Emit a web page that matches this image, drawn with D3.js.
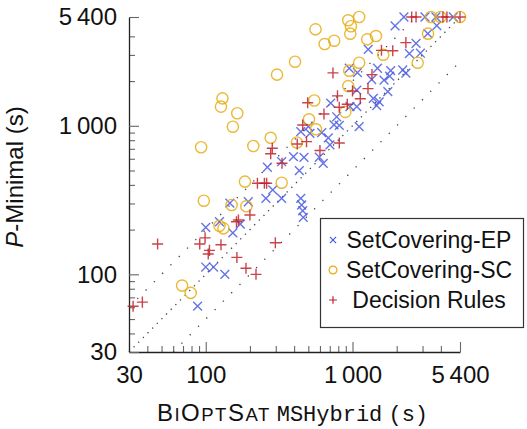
<!DOCTYPE html>
<html lang="en">
<head>
<meta charset="UTF-8" />
<script src="https://d3js.org/d3.v7.min.js"></script>
<title>P-Minimal vs BiOptSat</title>
<style>
  body { margin: 0; background: #fff; }
  text { font-family: "Liberation Sans", Arial, Helvetica, sans-serif; fill: #111; }
  .mono { font-family: "Liberation Mono", "DejaVu Sans Mono", monospace; }
</style>
</head>
<body>
<svg id="scatter-plot" width="527" height="429"></svg>
<script>
    // x: BiOptSat MSHybrid (s), y: P-Minimal (s), timeout = 5400
    const epX = [2240,1950,3120,3700,4860,3750,3260,2710,1280,2440,2900,1480,1820,2200,2310,1640,1790,1350,950,1080,1740,1070,1385,1460,1520,1070,960,710,780,748,813,1110,500,513,617,684,444,702,396,467,263,329,434,594,632,286,257,329,444,450,458,462,195,146,100,124,153,172,100,113,135,88];
    const epY = [5400,4700,5400,5400,5400,4730,4170,3590,3270,3060,3080,2440,2350,2375,2260,2030,2160,2050,2440,2280,1700,1740,1530,1370,1450,1345,1345,1420,1150,1013,1005,986,986,890,899,828,913,743,620,612,526,573,499,614,559,370,325,325,325,293,268,242,308,302,207,226,190,218,112,112,100,61];

    const scX = [560,935,1110,975,965,646,750,1260,1445,406,306,1110,950,2780,3270,3420,3980,5400,935,549,130,127,164,153,277,505,564,893,1620,418,93,211,185,329,97,150,189,124,132,69,79];
    const scY = [4460,5130,5400,4680,4170,3550,3740,3820,4020,2700,2210,2660,2350,2660,4170,5400,5400,5400,1850,1480,1530,1345,1215,986,830,1106,947,1240,3010,772,717,731,421,414,313,293,287,212,204,84,75];

    const drX = [2530,2710,4130,4400,5400,2310,1575,1880,736,1357,1275,1130,1000,790,921,812,495,639,458,813,284,277,331,420,486,600,225,251,260,200,167,162,99,91,127,106,104,163,188,220,298,47,37,32];
    const drY = [5400,5400,5400,5400,5400,3630,3220,3200,2270,2210,1780,1520,1715,1590,1396,1332,1430,1200,1013,766,706,649,559,754,782,682,410,410,410,251,232,226,176,160,158,145,137,130,110,100,163,160,65,61];

    const seriesNames = ['SetCovering-EP', 'SetCovering-SC', 'Decision Rules'];
    const majorTicks = [30, 100, 1000, 5400];
    const tickLabels = ['30', '100', '1\u2009000', '5\u2009400'];
    const minorTicks = [40, 50, 60, 70, 80, 90, 200, 300, 400, 500, 600, 700, 800, 900, 2000, 3000, 4000];
    const diagRatios = [2, 1, 0.5];

    const svg = d3.select('#scatter-plot');
    const margin = { left: 129, right: 460, top: 17, bottom: 352 };
    const lo = 30, hi = 5400;

    const xScale = d3.scaleLog().domain([lo, hi]).range([margin.left, margin.right]);
    const yScale = d3.scaleLog().domain([lo, hi]).range([margin.bottom, margin.top]);
    const fmt = d => tickLabels[majorTicks.indexOf(d)];

    // reference lines y = 2x, y = x, y = x/2
    const line = d3.line().x(d => xScale(d[0])).y(d => yScale(d[1]));
    diagRatios.forEach(r => {
        const x0 = Math.max(lo, lo / r), x1 = Math.min(hi, hi / r);
        svg.append('path')
            .attr('d', line([[x0, x0 * r], [x1, x1 * r]]))
            .attr('fill', 'none')
            .attr('stroke', '#444')
            .attr('stroke-width', 1.3)
            .attr('stroke-dasharray', r === 1 ? '1.3 5.3' : '1.3 10.5');
    });

    // axes
    const styleAxis = g => {
        g.selectAll('.domain').attr('stroke', '#222').attr('stroke-width', 1.3);
        g.selectAll('.tick line').attr('stroke', '#666').attr('stroke-width', 1.1);
        g.selectAll('text').attr('font-size', 24).attr('fill', '#111')
            .attr('font-family', '"Liberation Sans", Arial, sans-serif');
    };

    const xMinorG = svg.append('g').attr('transform', `translate(0,${margin.bottom})`)
        .call(d3.axisBottom(xScale).tickValues(minorTicks).tickSize(-6).tickSizeOuter(0).tickFormat(''));
    xMinorG.select('.domain').remove();
    styleAxis(xMinorG);
    const xAxisG = svg.append('g').attr('transform', `translate(0,${margin.bottom})`)
        .call(d3.axisBottom(xScale).tickValues(majorTicks).tickSize(-10).tickSizeOuter(0).tickPadding(14).tickFormat(fmt));
    styleAxis(xAxisG);

    const yMinorG = svg.append('g').attr('transform', `translate(${margin.left},0)`)
        .call(d3.axisLeft(yScale).tickValues(minorTicks).tickSize(-6).tickSizeOuter(0).tickFormat(''));
    yMinorG.select('.domain').remove();
    styleAxis(yMinorG);
    const yAxisG = svg.append('g').attr('transform', `translate(${margin.left},0)`)
        .call(d3.axisLeft(yScale).tickValues(majorTicks).tickSize(-10).tickSizeOuter(0).tickPadding(12).tickFormat(fmt));
    styleAxis(yAxisG);

    // axis labels
    const xl = svg.append('text').attr('x', (margin.left + margin.right) / 2 - 2).attr('y', 421)
        .attr('text-anchor', 'middle');
    [['B', 24], ['I', 18.5], ['O', 24], ['PT', 18.5], ['S', 24], ['AT', 18.5]].forEach(([t, s]) => {
        xl.append('tspan').attr('font-size', s).attr('letter-spacing', 1.5).text(t);
    });
    xl.append('tspan').attr('class', 'mono').attr('font-size', 22).attr('dx', 6).text('MSHybrid');
    xl.append('tspan').attr('font-size', 22).text(' ');
    xl.append('tspan').attr('class', 'mono').attr('font-size', 22).text('(s)');

    const yl = svg.append('text').attr('transform', 'translate(23,177) rotate(-90)')
        .attr('text-anchor', 'middle').attr('font-size', 24);
    yl.append('tspan').attr('font-style', 'italic').text('P');
    yl.append('tspan').text('-Minimal (s)');

    // markers
    const crossPath = a => `M${-a},${-a}L${a},${a}M${-a},${a}L${a},${-a}`;
    const plusPath = a => `M${-a},0L${a},0M0,${-a}L0,${a}`;

    const series = [
        { name: seriesNames[0], xs: epX, ys: epY, color: '#4a5ce0', draw: (g, s) => g.append('path').attr('d', crossPath(s * 1.1)) },
        { name: seriesNames[1], xs: scX, ys: scY, color: '#e6ad12', draw: (g, s) => g.append('circle').attr('r', s * 1.4) },
        { name: seriesNames[2], xs: drX, ys: drY, color: '#c0222a', draw: (g, s) => g.append('path').attr('d', plusPath(s * 1.38)) }
    ];

    series.forEach(se => {
        const g = svg.append('g');
        se.xs.forEach((xv, i) => {
            const m = g.append('g')
                .attr('transform', `translate(${xScale(xv)},${yScale(se.ys[i])})`);
            se.draw(m, 4)
                .attr('fill', 'none')
                .attr('stroke', se.color)
                .attr('stroke-width', 1.4)
                .attr('stroke-opacity', 0.85);
        });
    });

    // legend
    const lg = svg.append('g');
    lg.append('rect').attr('x', 320.5).attr('y', 218.5).attr('width', 203).attr('height', 109)
        .attr('fill', '#fff').attr('stroke', '#333').attr('stroke-width', 1.2);
    series.forEach((se, i) => {
        const cy = 240 + i * 30;
        const m = lg.append('g').attr('transform', `translate(333,${cy})`);
        se.draw(m, 2.8).attr('fill', 'none').attr('stroke', se.color).attr('stroke-width', 1.2);
        lg.append('text').attr('x', 429).attr('y', cy + 8).attr('text-anchor', 'middle')
            .attr('font-size', 23).text(se.name);
    });
</script>
</body>
</html>
